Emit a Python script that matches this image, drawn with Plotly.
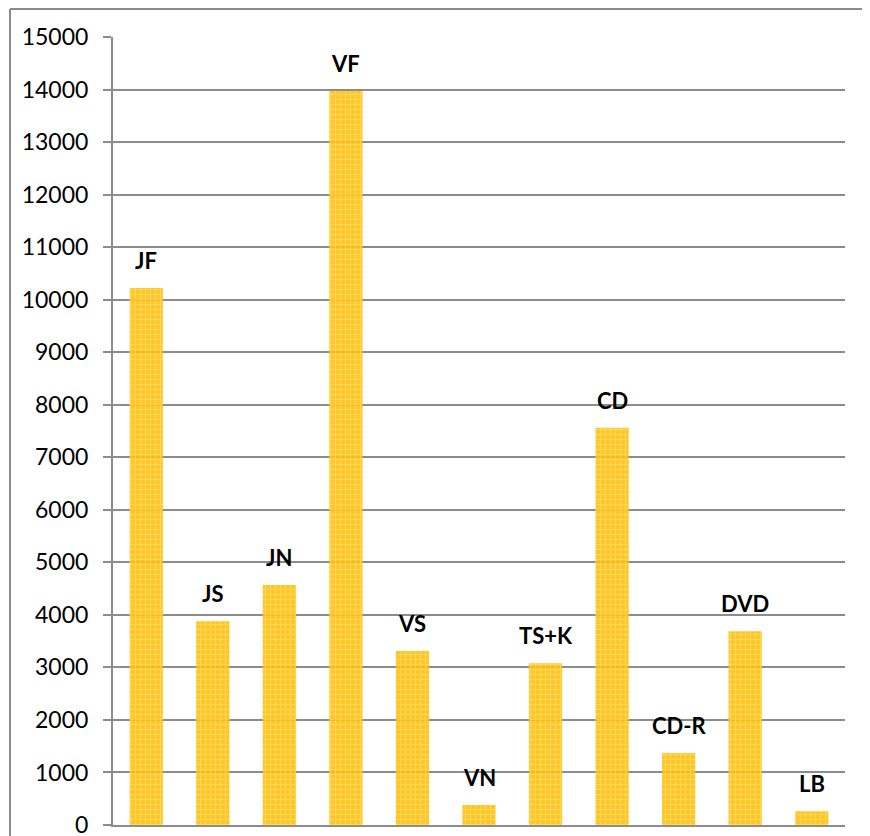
import plotly.graph_objects as go

categories = ['JF', 'JS', 'JN', 'VF', 'VS', 'VN', 'TS+K', 'CD', 'CD-R', 'DVD', 'LB']
values = [10220, 3880, 4570, 13970, 3310, 380, 3080, 7560, 1370, 3690, 260]
y_ticks = list(range(0, 15001, 1000))
y_ticktext = [str(t) for t in y_ticks]

fig = go.Figure()
fig.add_trace(go.Bar(
    x=categories,
    y=values,
    width=0.5,
    marker=dict(color='#FFC20E',
                line=dict(width=0),
                pattern=dict(shape='+', fgcolor='#FFE58A', bgcolor='#FFC20E',
                             size=5, solidity=0.35)),
    opacity=0.9,
))

for c, v in zip(categories, values):
    fig.add_annotation(x=c, y=v, text='<b>%s</b>' % c, showarrow=False,
                       yanchor='bottom', yshift=12,
                       font=dict(family='Lato', size=22, color='black'))

# chart area border (left and top edges)
fig.add_shape(type='line', xref='paper', yref='paper',
              x0=-0.1407, x1=-0.1407, y0=-0.2, y1=1.0355,
              line=dict(color='#8c8c8c', width=2))
fig.add_shape(type='line', xref='paper', yref='paper',
              x0=-0.1407, x1=1.2, y0=1.0355, y1=1.0355,
              line=dict(color='#8c8c8c', width=2))

fig.update_layout(
    width=862, height=828,
    margin=dict(l=105, r=25, t=29, b=11, autoexpand=False),
    plot_bgcolor='white', paper_bgcolor='white',
    showlegend=False,
    font=dict(family='Lato', color='black'),
)
fig.update_xaxes(showticklabels=False, showgrid=False, showline=True,
                 linecolor='#8c8c8c', linewidth=2, ticks='',
                 automargin=False)
fig.update_yaxes(range=[0, 15000], tickvals=y_ticks, ticktext=y_ticktext,
                 showgrid=True, gridcolor='#8c8c8c', gridwidth=2,
                 showline=True, linecolor='#8c8c8c', linewidth=2,
                 ticks='outside', ticklen=8, tickcolor='#8c8c8c', tickwidth=2,
                 tickfont=dict(family='Lato', size=23, color='black'),
                 ticklabelstandoff=10, ticklabeloverflow='allow',
                 automargin=False, zeroline=False)

fig.write_html('out.html')
